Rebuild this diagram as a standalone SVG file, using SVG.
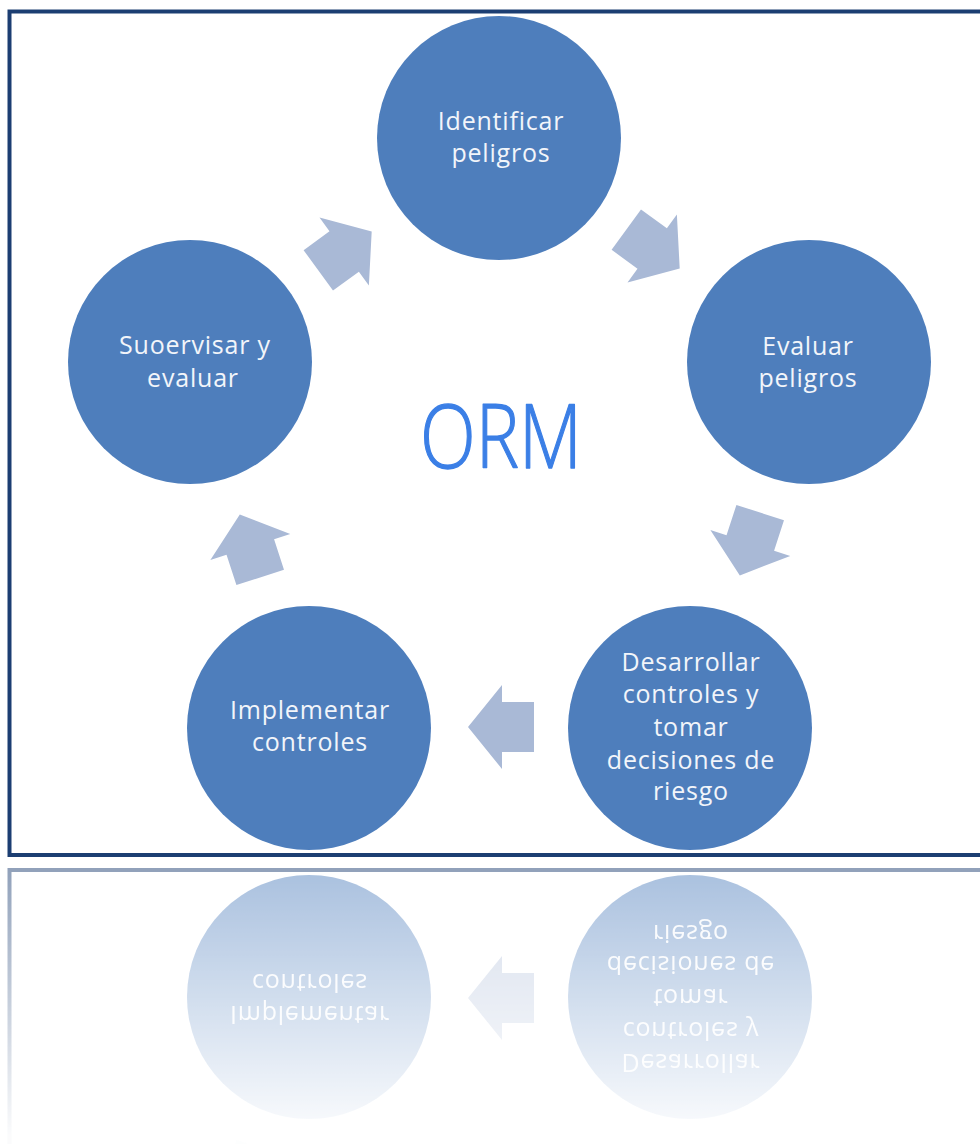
<svg xmlns="http://www.w3.org/2000/svg" xmlns:xlink="http://www.w3.org/1999/xlink" width="980" height="1144" viewBox="0 0 980 1144">
  <style>
    .node { fill: #4e7ebc; }
    .lbl { font-family: "Open Sans", "Liberation Sans", sans-serif; font-size: 25px; fill: #f2f5fa; text-anchor: middle; letter-spacing: 0.8px; }
    .arrow { fill: #a9b9d6; }
    .frame { fill: none; stroke: #1c3e72; stroke-width: 4; }
    .title { font-family: "Open Sans", "Lato", "Liberation Sans", sans-serif; font-weight: 300; font-size: 88px; fill: #3b7fe6; stroke: #3b7fe6; stroke-width: 1.3; stroke-linejoin: round; text-anchor: middle; }
  </style>
  <defs>
    <path id="blockArrow" d="M -33 -25 L -1 -25 L -1 -42 L 33 0 L -1 42 L -1 25 L -33 25 Z"/>
    <linearGradient id="fadeGrad" gradientUnits="userSpaceOnUse" x1="0" y1="862" x2="0" y2="1135">
      <stop offset="0" stop-color="#ffffff" stop-opacity="0.5"/>
      <stop offset="1" stop-color="#ffffff" stop-opacity="0.02"/>
    </linearGradient>
    <mask id="reflMask" maskUnits="userSpaceOnUse" x="0" y="862" width="980" height="282">
      <rect x="0" y="862" width="980" height="282" fill="url(#fadeGrad)"/>
    </mask>
  </defs>

  <rect x="0" y="0" width="980" height="1144" fill="#ffffff"/>

  <g id="frame">
    <rect class="frame" x="9.5" y="11.5" width="1000" height="843.5"/>
  </g>

  <g id="connectors">
    <use href="#blockArrow" class="arrow" transform="translate(653 249) rotate(36)"/>
    <use href="#blockArrow" class="arrow" transform="translate(750 544) rotate(108)"/>
    <use href="#blockArrow" class="arrow" transform="translate(501 727) rotate(180)"/>
    <use href="#blockArrow" class="arrow" transform="translate(250 546) rotate(-108)"/>
    <use href="#blockArrow" class="arrow" transform="translate(345 251) rotate(-36)"/>
  </g>

  <g id="n1">
    <circle class="node" cx="499" cy="138" r="122"/>
    <text class="lbl" x="501" y="130">Identificar</text>
    <text class="lbl" x="501" y="162">peligros</text>
  </g>

  <g id="n2">
    <circle class="node" cx="809" cy="362" r="122"/>
    <text class="lbl" x="808" y="355">Evaluar</text>
    <text class="lbl" x="808" y="387">peligros</text>
  </g>

  <g id="n3">
    <circle class="node" cx="690" cy="728" r="122"/>
    <text class="lbl" x="691" y="671">Desarrollar</text>
    <text class="lbl" x="691" y="703">controles y</text>
    <text class="lbl" x="691" y="736">tomar</text>
    <text class="lbl" x="691" y="769">decisiones de</text>
    <text class="lbl" x="691" y="800">riesgo</text>
  </g>

  <g id="n4">
    <circle class="node" cx="309" cy="728" r="122"/>
    <text class="lbl" x="310" y="719">Implementar</text>
    <text class="lbl" x="310" y="751">controles</text>
  </g>

  <g id="n5">
    <circle class="node" cx="190" cy="362" r="122"/>
    <text class="lbl" x="195" y="354">Suoervisar y</text>
    <text class="lbl" x="193" y="387">evaluar</text>
  </g>

  <g id="title">
    <text class="title" x="501" y="468" textLength="162" lengthAdjust="spacingAndGlyphs">ORM</text>
  </g>

  <g id="reflection" mask="url(#reflMask)">
    <g transform="matrix(1 0 0 -1 0 1725)">
      <use href="#frame"/>
      <use href="#connectors"/>
      <use href="#n3"/>
      <use href="#n4"/>
    </g>
  </g>
</svg>
